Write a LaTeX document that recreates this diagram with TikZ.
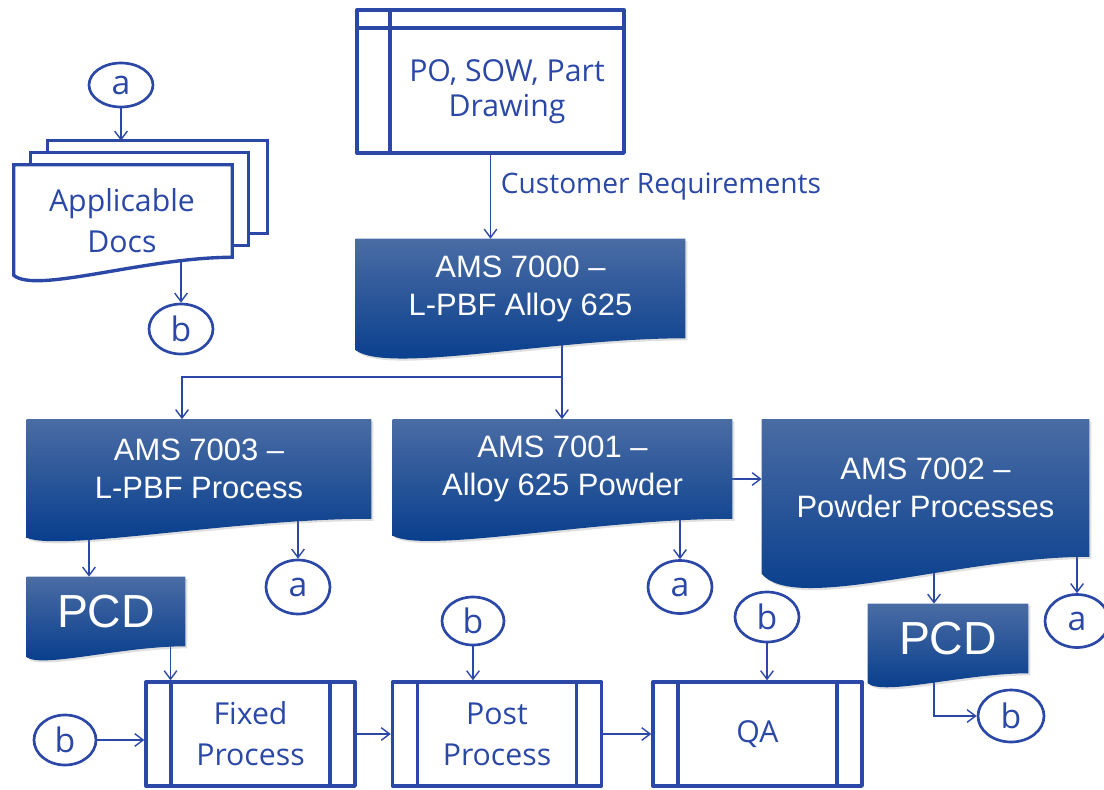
\documentclass[tikz,border=0pt]{standalone}
\usepackage{fontspec}
\setmainfont{Open Sans}
\newfontfamily\specfont{Liberation Sans}
\usepackage{tikz}
\usetikzlibrary{shapes.geometric, arrows.meta, positioning, calc, shadows}
\definecolor{LineBlue}{HTML}{2B48A6}
\definecolor{SpecTop}{HTML}{4A6CA4}
\definecolor{SpecBot}{HTML}{023A8B}
\newlength\unitpx
\setlength\unitpx{0.025cm}
\pgfdeclarelayer{wires}
\pgfdeclarelayer{background}
\pgfsetlayers{wires,background,main}

% outline of a document node with a wavy bottom: #1 node, #2 left drop, #3 curve depth
\newcommand\docwave[3]{(#1.north west) -- (#1.north east) -- (#1.south east)
  .. controls ($(#1.south west)!0.6!(#1.south east)$)
  and ($(#1.south west)!0.1!(#1.south east)+(0,#3)$) .. ($(#1.south west)+(0,#2)$) -- cycle}

\begin{document}
\begin{tikzpicture}[x=0.025cm, y=-0.025cm, >={Straight Barb[length=6pt,width=9pt]}, line join=round]
    \tikzstyle{specdoc} = [rectangle, inner sep=0pt, text=white, align=center, font=\specfont\fontsize{22}{27}\selectfont]
    \tikzstyle{pcddoc} = [specdoc, font=\specfont\fontsize{33}{38}\selectfont]
    \tikzstyle{specfill} = [top color=SpecTop, bottom color=SpecBot, drop shadow={opacity=0.25, shadow xshift=1.5pt, shadow yshift=-1.5pt}]
    \tikzstyle{outline} = [draw=LineBlue, line width=2.4pt]
    \tikzstyle{bluetext} = [text=LineBlue, align=center, font=\fontsize{21.5}{29}\selectfont]
    \tikzstyle{docpage} = [rectangle, inner sep=0pt]
    \tikzstyle{conn} = [ellipse, draw=LineBlue, line width=1.9pt, inner sep=0pt, minimum width=64\unitpx, minimum height=50\unitpx, text=LineBlue, font=\fontsize{24}{24}\selectfont]
    \tikzstyle{procbox} = [rectangle, outline, bluetext, minimum width=209\unitpx, minimum height=104\unitpx,
        path picture={\draw[LineBlue, line width=2.4pt] ([xshift=25\unitpx]path picture bounding box.north west) -- ([xshift=25\unitpx]path picture bounding box.south west)
            ([xshift=-25\unitpx]path picture bounding box.north east) -- ([xshift=-25\unitpx]path picture bounding box.south east);}]
    \tikzstyle{storebox} = [rectangle, outline, minimum width=267\unitpx, minimum height=143\unitpx,
        path picture={\draw[LineBlue, line width=2.4pt] ([xshift=33\unitpx]path picture bounding box.north west) -- ([xshift=33\unitpx]path picture bounding box.south west)
            ([yshift=-18\unitpx]path picture bounding box.north west) -- ([yshift=-18\unitpx]path picture bounding box.north east);}]
    \tikzstyle{line} = [draw=LineBlue, line width=1pt, ->]

    \useasboundingbox (0,0) rectangle (1104,789);

    % customer input
    \node [storebox] (po) at (490.5,81.5) {};
    \node [bluetext, font=\fontsize{21.5}{25}\selectfont] (potext) at (507,92) {PO, SOW, Part\\Drawing};

    % specifications
    \node [specdoc, minimum width=329\unitpx, minimum height=99\unitpx] (ams7000) at (520.5,288.5) {AMS 7000 –\\L-PBF Alloy 625};
    \node [specdoc, minimum width=344\unitpx, minimum height=99\unitpx] (ams7003) at (199,469) {AMS 7003 –\\L-PBF Process};
    \node [specdoc, minimum width=339\unitpx, minimum height=99\unitpx] (ams7001) at (562.5,469) {AMS 7001 –\\Alloy 625 Powder};
    \node [specdoc, minimum width=327\unitpx, minimum height=137\unitpx] (ams7002) at (925.5,488) {AMS 7002 –\\Powder Processes};
    \node [pcddoc, minimum width=158\unitpx, minimum height=69\unitpx] (pcd1) at (106,611.5) {PCD};
    \node [pcddoc, minimum width=160\unitpx, minimum height=69\unitpx] (pcd2) at (948,638.5) {PCD};

    % applicable documents
    \node [docpage, minimum width=219\unitpx, minimum height=92\unitpx] (docback) at (157.5,187) {};
    \node [docpage, minimum width=217\unitpx, minimum height=92\unitpx] (docmid) at (139.5,199) {};
    \node [docpage, minimum width=218\unitpx, minimum height=92\unitpx] (appdocs) at (123,211) {};
    \node [bluetext] (docstext) at (122,221) {Applicable\\Docs};

    % processes
    \node [procbox] (fixed) at (250.5,734) {Fixed\\Process};
    \node [procbox] (post) at (497,734) {Post\\Process};
    \node [procbox] (qa) at (757.5,734) {QA};

    % connectors
    \node [conn, minimum height=44\unitpx] (atop) at (121,85) {a};
    \node [conn] (bdocs) at (181,329) {b};
    \node [conn, minimum height=54\unitpx] (a7003) at (298,587) {a};
    \node [conn, minimum height=53\unitpx] (a7001) at (680,587) {a};
    \node [conn, minimum height=53\unitpx] (a7002) at (1077,621) {a};
    \node [conn, minimum width=62\unitpx] (bleft) at (65,740) {b};
    \node [conn, minimum width=62\unitpx, minimum height=48\unitpx] (bpost) at (473,621) {b};
    \node [conn] (bqa) at (767,617) {b};
    \node [conn, minimum width=66\unitpx, minimum height=52\unitpx] (bpcd) at (1011,716) {b};

    \begin{pgfonlayer}{background}
        \filldraw [outline, fill=white] (docback.north west) rectangle (docback.south east);
        \filldraw [outline, fill=white] (docmid.north west) rectangle (docmid.south east);
        \filldraw [outline, fill=white] \docwave{appdocs}{18}{37};
        \shade [specfill] \docwave{ams7000}{12}{36};
        \shade [specfill] \docwave{ams7003}{19}{33};
        \shade [specfill] \docwave{ams7001}{17}{35};
        \shade [specfill] \docwave{ams7002}{17}{57};
        \shade [specfill] \docwave{pcd1}{11}{22};
        \shade [specfill] \docwave{pcd2}{10}{23};
    \end{pgfonlayer}

    \begin{pgfonlayer}{wires}
        \coordinate (split) at (562,377);
        \coordinate (lsplit) at (182,377);
        \coordinate (feed) at ([yshift=-10\unitpx]ams7001.east);
        \coordinate (pcdin) at ([xshift=-17\unitpx]pcd1.north);
        \coordinate (pcdin2) at ([xshift=-14\unitpx]pcd2.north);
        \coordinate (fixin) at ([xshift=-80\unitpx]fixed.north);

        \path [line] (po) -- node [right, pos=0.38, xshift=5\unitpx, text=LineBlue, font=\fontsize{20}{24}\selectfont] (custreq) {Customer Requirements} (po.south |- ams7000.north);
        \path [line, -] (split |- ams7000.south) -- (split);
        \path [line] (split) -- (split |- ams7001.north);
        \path [line] (split) -- (lsplit) -- (lsplit |- ams7003.north);
        \path [line] (feed) -- (feed -| ams7002.west);
        \path [line] (pcdin |- ams7003.south) -- (pcdin);
        \path [line] (a7003 |- ams7003.south) -- (a7003);
        \path [line] (a7001 |- ams7001.south) -- (a7001);
        \path [line] (pcdin2 |- ams7002.south) -- (pcdin2);
        \path [line] (a7002 |- ams7002.south) -- (a7002);
        \path [line] (fixin |- pcd1.south) -- (fixin);
        \path [line] ([xshift=-14\unitpx]pcd2.south) |- (bpcd);
        \path [line] (atop) -- (atop |- docback.north);
        \path [line] (bdocs |- appdocs.south) -- (bdocs);
        \path [line] (bleft) -- (bleft -| fixed.west);
        \path [line] (fixed) -- (post);
        \path [line] (post) -- (qa);
        \path [line] (bpost) -- (bpost |- post.north);
        \path [line] (bqa) -- (bqa |- qa.north);
    \end{pgfonlayer}
\end{tikzpicture}
\end{document}
